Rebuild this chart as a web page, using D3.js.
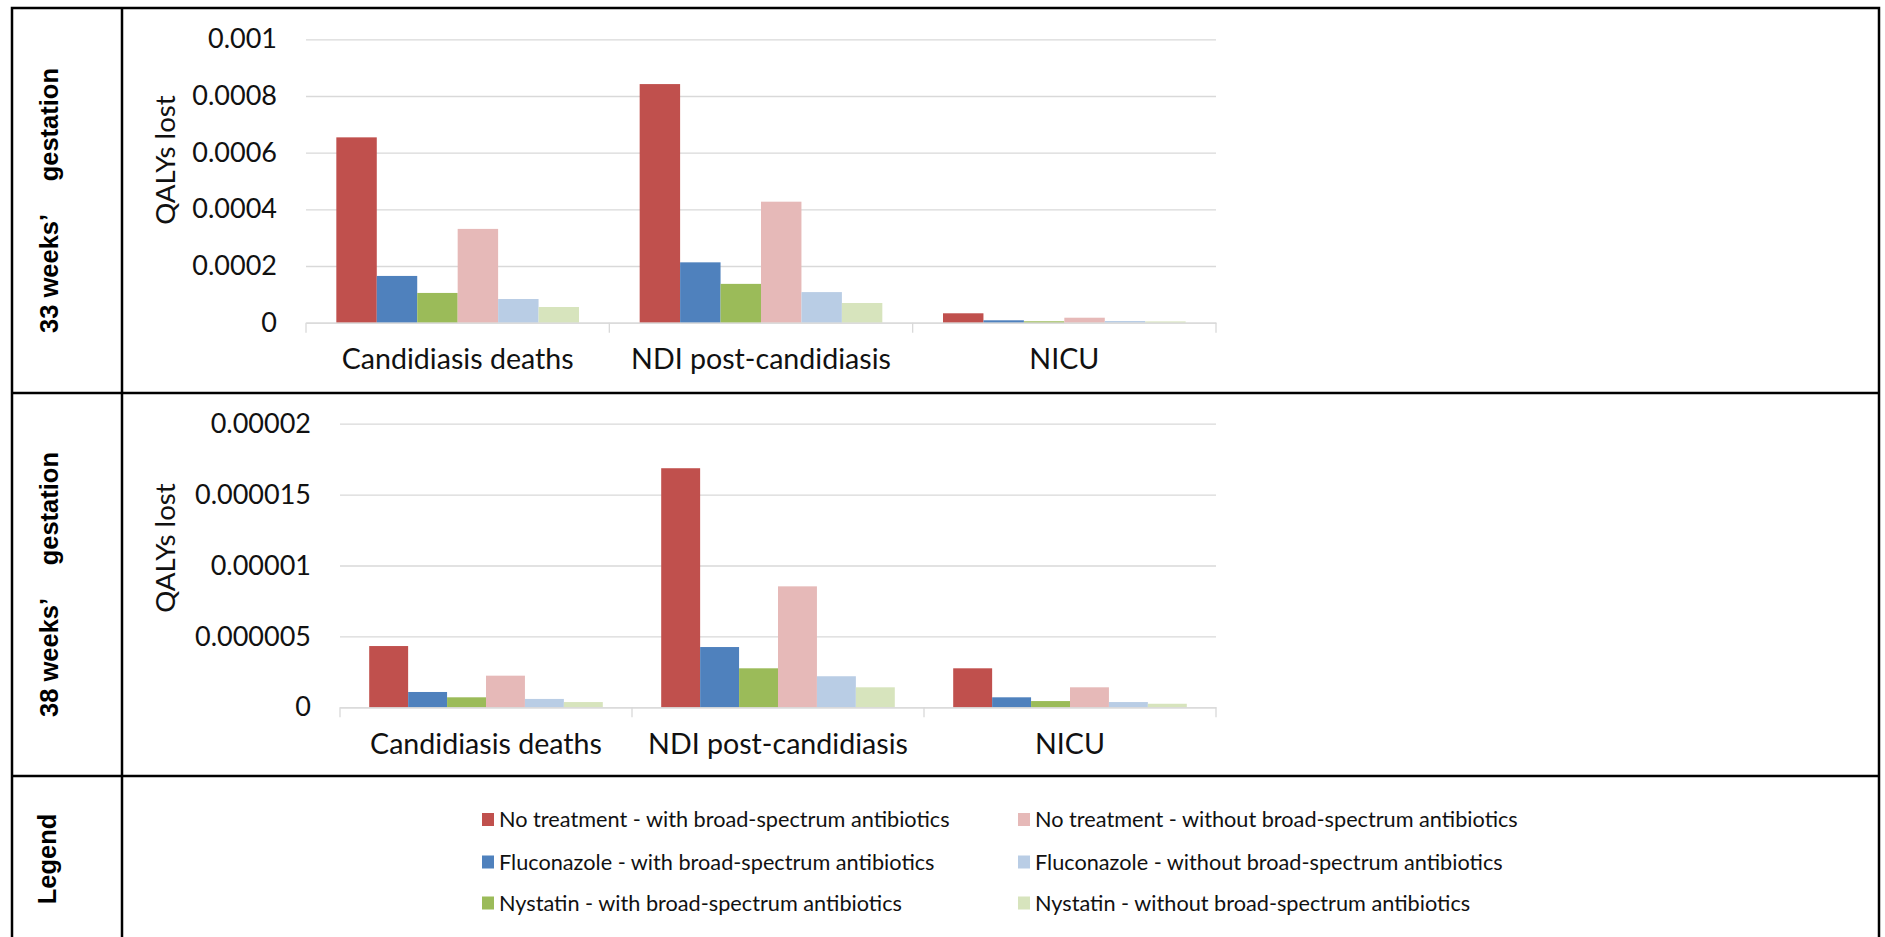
<!DOCTYPE html>
<html>
<head>
<meta charset="utf-8">
<script src="https://cdn.jsdelivr.net/npm/d3@7"></script>
<style>
  html, body { margin: 0; padding: 0; background: #fff; }
  svg { display: block; }
</style>
</head>
<body>
<svg id="fig" width="1885" height="937"></svg>
<script>
// Outcome categories on the x axis
const categories = ["Candidiasis deaths", "NDI post-candidiasis", "NICU"];

// Treatment strategies (one bar per strategy in each category)
const seriesNames = [
  "No treatment - with broad-spectrum antibiotics",
  "Fluconazole - with broad-spectrum antibiotics",
  "Nystatin - with broad-spectrum antibiotics",
  "No treatment - without broad-spectrum antibiotics",
  "Fluconazole - without broad-spectrum antibiotics",
  "Nystatin - without broad-spectrum antibiotics"
];
const seriesColors = ["#c0504d", "#4f81bd", "#9bbb59", "#e6b9b8", "#b9cde5", "#d7e4bd"];

// QALYs lost, 33 weeks' gestation (values in series order)
const deaths33 = [0.000654, 0.000165, 0.000105, 0.000331, 0.0000836, 0.0000554];
const ndi33    = [0.000842, 0.000213, 0.000137, 0.000427, 0.000108, 0.0000695];
const nicu33   = [0.0000332, 0.0000085, 0.000005, 0.0000176, 0.000006, 0.0000045];

// QALYs lost, 38 weeks' gestation (values in series order)
const deaths38 = [0.00000432, 0.00000108, 0.000000705, 0.00000223, 0.00000059, 0.00000037];
const ndi38    = [0.00001686, 0.00000425, 0.00000275, 0.00000853, 0.00000219, 0.00000141];
const nicu38   = [0.00000275, 0.000000705, 0.00000044, 0.00000141, 0.00000037, 0.00000025];

// Y axis ticks and their printed labels
const ticks33 = [0, 0.0002, 0.0004, 0.0006, 0.0008, 0.001];
const tickLabels33 = ["0", "0.0002", "0.0004", "0.0006", "0.0008", "0.001"];
const ticks38 = [0, 0.000005, 0.00001, 0.000015, 0.00002];
const tickLabels38 = ["0", "0.000005", "0.00001", "0.000015", "0.00002"];

const rowLabels = [["33 weeks\u2019", "gestation"], ["38 weeks\u2019", "gestation"]];

const svg = d3.select("#fig");
svg.append("rect").attr("width", 1885).attr("height", 937).attr("fill", "#fff");

const chartFont = "Lato, 'Open Sans', sans-serif";
const labelFont = "'Liberation Sans', Arial, sans-serif";

// ---- bar chart panel ----
function drawPanel(opt) {
  const g = svg.append("g");
  const x = d3.scaleBand().domain(categories).range([opt.left, opt.right]).padding(0);
  const inner = d3.scaleBand().domain(d3.range(seriesNames.length))
    .range([0, x.bandwidth()]).paddingInner(0).paddingOuter(0.75);
  const y = d3.scaleLinear().domain([0, opt.max]).range([opt.bottom, opt.top]);

  // gridlines + tick labels
  const yAxis = g.append("g")
    .attr("transform", `translate(${opt.left},0)`)
    .call(d3.axisLeft(y).tickValues(opt.ticks)
      .tickFormat((d, i) => opt.tickLabels[i])
      .tickSize(-(opt.right - opt.left)).tickPadding(29));
  yAxis.select(".domain").remove();
  yAxis.selectAll(".tick line").attr("stroke", "#d9d9d9").attr("stroke-width", 1.3);
  yAxis.selectAll(".tick text")
    .attr("font-family", chartFont).attr("font-size", 27).attr("fill", "#111");

  // bars
  const rows = categories.map((c, ci) => ({ cat: c, values: opt.values[ci] }));
  const groups = g.selectAll("g.cat").data(rows).join("g")
    .attr("class", "cat")
    .attr("transform", d => `translate(${x(d.cat)},0)`);
  groups.selectAll("rect").data(d => d.values.map((v, si) => ({ v, si })))
    .join("rect")
    .attr("x", d => inner(d.si))
    .attr("width", inner.bandwidth())
    .attr("y", d => y(d.v))
    .attr("height", d => y(0) - y(d.v))
    .attr("fill", d => seriesColors[d.si]);

  // category axis
  const xAxis = g.append("g")
    .attr("transform", `translate(0,${opt.bottom})`)
    .call(d3.axisBottom(x).tickSize(0).tickPadding(26.2));
  xAxis.select(".domain").attr("stroke", "#d9d9d9").attr("stroke-width", 1.3);
  xAxis.selectAll(".tick text")
    .attr("font-family", chartFont).attr("font-size", 28.6).attr("fill", "#111");

  // category boundary ticks
  const bounds = categories.map(c => x(c)).concat([x.range()[1]]);
  g.append("g").selectAll("line").data(bounds).join("line")
    .attr("x1", d => d).attr("x2", d => d)
    .attr("y1", opt.bottom).attr("y2", opt.bottom + 10)
    .attr("stroke", "#d9d9d9").attr("stroke-width", 1.3);

  // axis title
  g.append("text")
    .attr("transform", `translate(174.5,${opt.titleY}) rotate(-90)`)
    .attr("text-anchor", "middle")
    .attr("font-family", chartFont).attr("font-size", 27.7).attr("fill", "#111")
    .text("QALYs lost");
}

drawPanel({
  left: 306, right: 1216, top: 39.3, bottom: 322.7, max: 0.001,
  ticks: ticks33, tickLabels: tickLabels33,
  values: [deaths33, ndi33, nicu33], titleY: 160
});
drawPanel({
  left: 340, right: 1216, top: 423.7, bottom: 707.3, max: 0.00002,
  ticks: ticks38, tickLabels: tickLabels38,
  values: [deaths38, ndi38, nicu38], titleY: 548
});

// ---- legend ----
const legend = svg.append("g");
const legendItems = legend.selectAll("g").data(seriesNames).join("g")
  .attr("transform", (d, i) => `translate(${i < 3 ? 482 : 1018},${[819.5, 862, 903][i % 3]})`);
legendItems.append("rect")
  .attr("x", 0).attr("y", -6.5).attr("width", 12).attr("height", 13)
  .attr("fill", (d, i) => seriesColors[i]);
legendItems.append("text")
  .attr("x", 17).attr("y", 7.5)
  .attr("font-family", chartFont).attr("font-size", 21.7).attr("fill", "#111")
  .text(d => d);

// ---- row labels ----
const rowCenters = [201, 585];
const rowFont = 25.5;
const rowBaseX = 57.5;
rowLabels.forEach((parts, i) => {
  const c = rowCenters[i];
  svg.append("text")
    .attr("transform", `translate(${rowBaseX},${c + 132}) rotate(-90)`)
    .attr("font-family", labelFont).attr("font-weight", "bold").attr("font-size", rowFont)
    .text(parts[0]);
  svg.append("text")
    .attr("transform", `translate(${rowBaseX},${c - 133}) rotate(-90)`)
    .attr("text-anchor", "end")
    .attr("font-family", labelFont).attr("font-weight", "bold").attr("font-size", rowFont)
    .text(parts[1]);
});
svg.append("text")
  .attr("transform", `translate(${rowBaseX - 2},859) rotate(-90)`)
  .attr("text-anchor", "middle")
  .attr("font-family", labelFont).attr("font-weight", "bold").attr("font-size", rowFont)
  .text("Legend");

// ---- table frame ----
const frame = svg.append("g").attr("stroke", "#000").attr("stroke-width", 2.5).attr("fill", "none");
frame.append("rect").attr("x", 12).attr("y", 8).attr("width", 1867).attr("height", 945);
[393, 776].forEach(yy => frame.append("line").attr("x1", 12).attr("x2", 1879).attr("y1", yy).attr("y2", yy));
frame.append("line").attr("x1", 122).attr("x2", 122).attr("y1", 8).attr("y2", 953);
</script>
</body>
</html>
